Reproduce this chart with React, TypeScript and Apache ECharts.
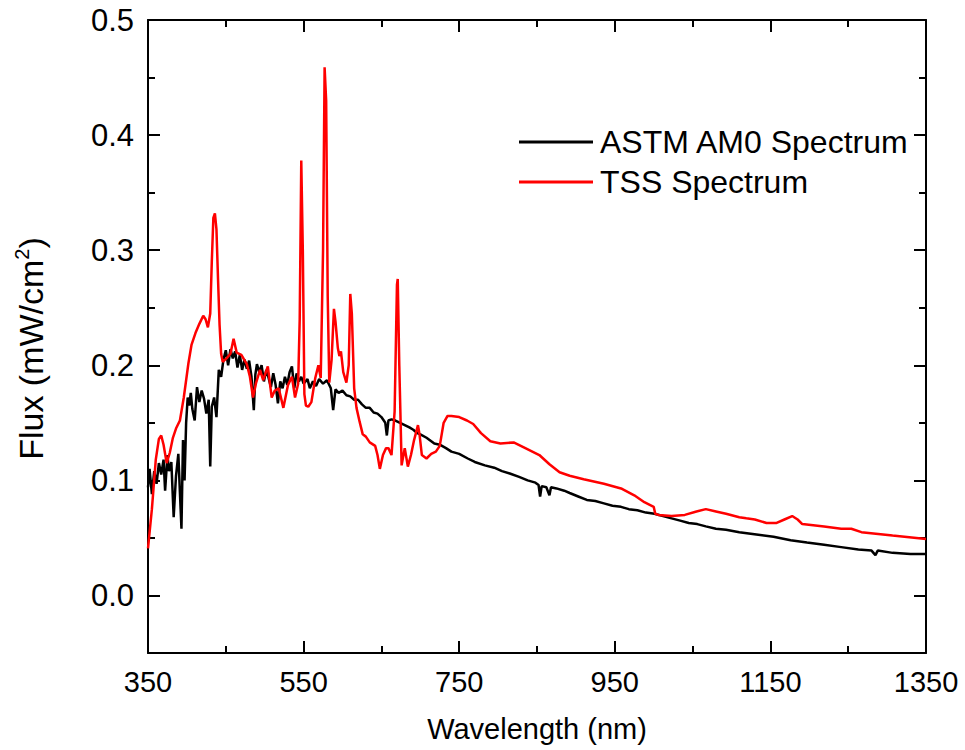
import React, { useEffect, useRef } from "react";
import * as echarts from "echarts";

// ASTM AM0 spectrum (wavelength nm, flux mW/cm^2)
const am0Wavelength = [
  350, 352, 355, 358, 361, 364, 367, 370, 372, 375, 377, 380, 383, 386, 389, 391, 393, 395, 397, 399,
  401, 403, 405, 407, 410, 413, 416, 419, 422, 425, 428, 430, 432, 435, 438, 441, 444, 447, 450, 453,
  456, 459, 462, 465, 468, 471, 474, 477, 480, 483, 486, 488, 490, 493, 496, 499, 502, 505, 508, 511,
  514, 517, 520, 523, 526, 529, 532, 535, 538, 541, 544, 547, 550, 555, 558, 562, 566, 570, 575, 580,
  585, 588, 591, 595, 600, 605, 610, 615, 620, 625, 630, 635, 640, 645, 650, 655, 657, 659, 663, 668,
  674, 680, 686, 691, 696, 700, 708, 718, 725, 733, 740, 750, 761, 770, 783, 795, 805, 815, 827, 838,
  848, 852, 854, 856, 862, 866, 868, 875, 885, 892, 903, 914, 925, 936, 947, 958, 968, 979, 990, 1001,
  1012, 1023, 1034, 1045, 1056, 1067, 1080, 1093, 1110, 1132, 1154, 1176, 1197, 1219, 1241, 1263, 1280, 1285, 1288, 1307,
  1330, 1350,
];
const am0Flux = [
  0.094, 0.110, 0.088, 0.108, 0.097, 0.115, 0.105, 0.118, 0.091, 0.122, 0.108, 0.116, 0.068, 0.104, 0.123, 0.090, 0.058, 0.135, 0.100, 0.150,
  0.172, 0.165, 0.176, 0.162, 0.152, 0.181, 0.168, 0.178, 0.171, 0.158, 0.170, 0.112, 0.164, 0.172, 0.155, 0.196, 0.190, 0.205, 0.213, 0.200,
  0.214, 0.206, 0.212, 0.198, 0.209, 0.196, 0.205, 0.197, 0.204, 0.190, 0.161, 0.192, 0.201, 0.194, 0.200, 0.186, 0.196, 0.189, 0.181, 0.193,
  0.183, 0.167, 0.186, 0.180, 0.190, 0.183, 0.194, 0.199, 0.180, 0.193, 0.186, 0.190, 0.184, 0.188, 0.180, 0.186, 0.182, 0.188, 0.184, 0.187,
  0.180, 0.161, 0.179, 0.176, 0.178, 0.174, 0.173, 0.170, 0.170, 0.166, 0.163, 0.163, 0.159, 0.158, 0.155, 0.150, 0.139, 0.152, 0.153, 0.152,
  0.150, 0.148, 0.146, 0.144, 0.141, 0.140, 0.137, 0.132, 0.131, 0.128, 0.125, 0.123, 0.119, 0.116, 0.113, 0.111, 0.108, 0.106, 0.103, 0.100,
  0.098, 0.096, 0.086, 0.095, 0.094, 0.087, 0.094, 0.093, 0.091, 0.089, 0.086, 0.083, 0.082, 0.080, 0.078, 0.077, 0.075, 0.074, 0.072, 0.071,
  0.069, 0.067, 0.065, 0.063, 0.062, 0.060, 0.058, 0.057, 0.055, 0.053, 0.051, 0.048, 0.046, 0.044, 0.042, 0.040, 0.039, 0.035, 0.039, 0.037,
  0.036, 0.036,
];

// TSS spectrum (wavelength nm, flux mW/cm^2)
const tssWavelength = [
  350, 355, 360, 364, 367, 370, 374, 378, 382, 386, 391, 396, 402, 406, 411, 416, 421, 424, 427, 430,
  432, 434, 436, 438, 440, 442, 444, 446, 451, 456, 460, 464, 470, 477, 481, 485, 489, 494, 498, 504,
  509, 513, 518, 524, 530, 535, 539, 543, 545, 547, 549, 551, 553, 556, 560, 565, 569, 572, 575, 577,
  579, 581, 583, 586, 589, 591, 594, 596, 598, 601, 605, 608, 610, 612, 615, 618, 622, 626, 630, 635,
  642, 645, 648, 652, 656, 659, 663, 667, 670, 671, 673, 676, 680, 684, 688, 692, 697, 699, 702, 708,
  714, 720, 725, 730, 735, 740, 750, 760, 768, 778, 790, 803, 820, 835, 853, 866, 879, 892, 910, 936,
  958, 975, 988, 1000, 1002, 1006, 1023, 1040, 1055, 1067, 1080, 1093, 1110, 1119, 1130, 1145, 1158, 1168, 1178, 1185,
  1191, 1219, 1241, 1254, 1267, 1307, 1350,
];
const tssFlux = [
  0.041, 0.075, 0.118, 0.136, 0.139, 0.131, 0.115, 0.124, 0.137, 0.145, 0.152, 0.172, 0.202, 0.218, 0.228, 0.236, 0.243, 0.240, 0.233, 0.245,
  0.290, 0.328, 0.332, 0.318, 0.275, 0.235, 0.210, 0.203, 0.206, 0.210, 0.223, 0.211, 0.209, 0.201, 0.190, 0.172, 0.185, 0.196, 0.187, 0.199,
  0.172, 0.178, 0.180, 0.163, 0.183, 0.190, 0.172, 0.184, 0.240, 0.378, 0.300, 0.175, 0.165, 0.164, 0.168, 0.189, 0.200, 0.189, 0.300, 0.459,
  0.430, 0.260, 0.185, 0.205, 0.249, 0.238, 0.215, 0.208, 0.212, 0.194, 0.185, 0.200, 0.262, 0.245, 0.180, 0.163, 0.151, 0.140, 0.138, 0.133,
  0.130, 0.122, 0.110, 0.122, 0.128, 0.128, 0.122, 0.160, 0.270, 0.275, 0.200, 0.113, 0.128, 0.112, 0.122, 0.135, 0.148, 0.140, 0.122, 0.119,
  0.123, 0.125, 0.130, 0.150, 0.156, 0.156, 0.155, 0.152, 0.149, 0.141, 0.134, 0.132, 0.133, 0.128, 0.122, 0.114, 0.107, 0.104, 0.101, 0.097,
  0.093, 0.087, 0.081, 0.077, 0.071, 0.070, 0.069, 0.070, 0.073, 0.075, 0.073, 0.071, 0.068, 0.067, 0.066, 0.063, 0.063, 0.066, 0.069, 0.066,
  0.062, 0.060, 0.058, 0.058, 0.055, 0.052, 0.049,
];

const seriesNames = ["ASTM AM0 Spectrum", "TSS Spectrum"];
const xTitle = "Wavelength (nm)";

const FONT = "'Liberation Sans', Arial, Helvetica, sans-serif";

export default function App() {
  const ref = useRef<HTMLDivElement>(null);

  useEffect(() => {
    if (!ref.current) return;
    const chart = echarts.init(ref.current, undefined, { renderer: "svg" });

    const tickCommon = {
      axisLine: { onZero: false, lineStyle: { color: "#000", width: 2 } },
      axisTick: { inside: true, length: 12, lineStyle: { color: "#000", width: 2 } },
      minorTick: { show: true, splitNumber: 2, length: 7, lineStyle: { color: "#000", width: 2 } },
      splitLine: { show: false },
      minorSplitLine: { show: false },
    };

    const option: any = {
      animation: false,
      backgroundColor: "#fff",
      textStyle: { fontFamily: FONT, color: "#000" },
      grid: { left: 148, right: 39, top: 20, bottom: 97 },
      legend: {
        data: seriesNames,
        orient: "vertical",
        left: 519,
        top: 126,
        padding: 0,
        itemGap: 8,
        icon: "rect",
        itemWidth: 74,
        itemHeight: 3,
        textStyle: { fontSize: 32, color: "#000", fontFamily: FONT, lineHeight: 32, padding: [0, 0, 0, 2] },
      },
      xAxis: [
        {
          type: "value",
          position: "bottom",
          min: 350,
          max: 1350,
          interval: 200,
          ...tickCommon,
          axisLabel: {
            fontSize: 29,
            color: "#000",
            margin: 14,
            fontFamily: FONT,
            formatter: (v: number) => String(Math.round(v)),
          },
          name: xTitle,
          nameLocation: "middle",
          nameGap: 61,
          nameTextStyle: { fontSize: 29, color: "#000", fontFamily: FONT },
        },
        {
          type: "value",
          position: "top",
          min: 350,
          max: 1350,
          interval: 200,
          ...tickCommon,
          axisLabel: { show: false },
        },
      ],
      yAxis: [
        {
          type: "value",
          position: "left",
          min: -0.05,
          max: 0.5,
          splitNumber: 5,
          minInterval: 0.1,
          maxInterval: 0.1,
          ...tickCommon,
          axisLabel: {
            fontSize: 31,
            color: "#000",
            margin: 14,
            fontFamily: FONT,
            formatter: (v: number) => (v < -0.001 ? "" : Math.abs(v).toFixed(1)),
          },
          name: "{a|Flux (mW/cm}{b|2}{a|)}",
          nameLocation: "middle",
          nameGap: 98,
          nameTextStyle: {
            color: "#000",
            fontFamily: FONT,
            padding: [0, 24, 0, 0],
            rich: {
              a: { fontSize: 34, lineHeight: 38, color: "#000", fontFamily: FONT },
              b: { fontSize: 20, lineHeight: 20, verticalAlign: "top", color: "#000", fontFamily: FONT },
            },
          },
        },
        {
          type: "value",
          position: "right",
          min: -0.05,
          max: 0.5,
          splitNumber: 5,
          minInterval: 0.1,
          maxInterval: 0.1,
          ...tickCommon,
          axisLabel: { show: false },
        },
      ],
      series: [
        {
          name: seriesNames[0],
          type: "line",
          xAxisIndex: 0,
          yAxisIndex: 0,
          symbol: "none",
          showSymbol: false,
          lineStyle: { color: "#000", width: 2.5 },
          itemStyle: { color: "#000" },
          data: am0Wavelength.map((w, i) => [w, am0Flux[i]]),
        },
        {
          name: seriesNames[1],
          type: "line",
          xAxisIndex: 0,
          yAxisIndex: 0,
          symbol: "none",
          showSymbol: false,
          lineStyle: { color: "#ff0000", width: 2.5 },
          itemStyle: { color: "#ff0000" },
          data: tssWavelength.map((w, i) => [w, tssFlux[i]]),
        },
      ],
    };

    chart.setOption(option);
    return () => chart.dispose();
  }, []);

  return (
    <div
      ref={ref}
      style={{ position: "fixed", left: 0, top: 0, width: 965, height: 750, background: "#fff" }}
    />
  );
}
